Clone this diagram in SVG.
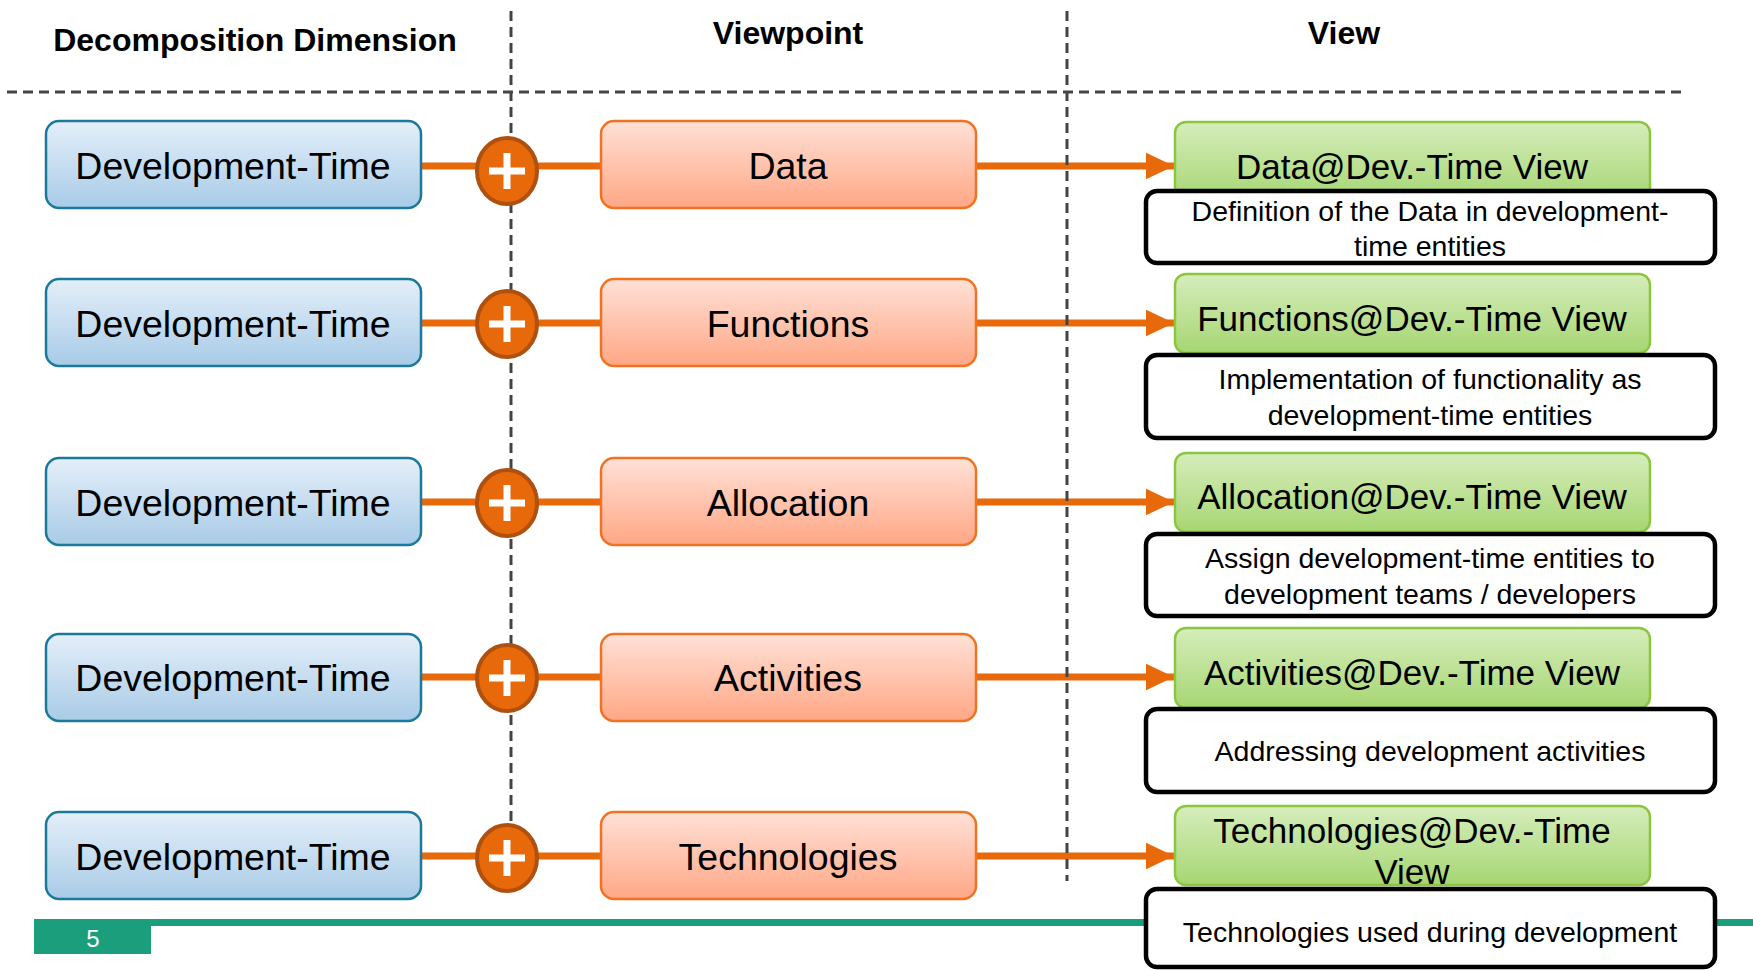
<svg xmlns="http://www.w3.org/2000/svg" width="1753" height="970" viewBox="0 0 1753 970">
<defs>
<linearGradient id="gBlue" x1="0" y1="0" x2="0" y2="1"><stop offset="0" stop-color="#E4EFF9"/><stop offset="1" stop-color="#A8CBE7"/></linearGradient>
<linearGradient id="gOrange" x1="0" y1="0" x2="0" y2="1"><stop offset="0" stop-color="#FFE1D7"/><stop offset="1" stop-color="#FFA785"/></linearGradient>
<linearGradient id="gGreen" x1="0" y1="0" x2="0" y2="1"><stop offset="0" stop-color="#D6EDBC"/><stop offset="1" stop-color="#A6D672"/></linearGradient>
<marker id="arr" markerWidth="4" markerHeight="3.8" refX="4" refY="1.9" orient="auto" markerUnits="strokeWidth"><path d="M0,0 L4,1.9 L0,3.8 Z" fill="#E8690A"/></marker>
<style>
.blue{fill:url(#gBlue);stroke:#1B7A9C;stroke-width:2.5}
.orange{fill:url(#gOrange);stroke:#F07222;stroke-width:2.5}
.green{fill:url(#gGreen);stroke:#8CC63F;stroke-width:2.5}
.desc{fill:#fff;stroke:#000;stroke-width:4.5}
.t{font-family:"Liberation Sans",Arial,sans-serif;fill:#000;text-anchor:middle}
.big{font-size:37.5px}
.gt{font-size:35px}
.dt{font-size:28.5px}
.hd{font-size:32px;font-weight:bold}
.con{stroke:#E8690A;stroke-width:7;fill:none}
.dash{stroke:#444;stroke-width:3;stroke-dasharray:10 6;fill:none}
.plus ellipse{fill:#E8690A;stroke:#B0500E;stroke-width:4}
.pl{stroke:#fff;stroke-width:7}
</style>
</defs>
<rect width="1753" height="970" fill="#fff"/>

<!-- footer -->
<g id="footer">
<rect x="34" y="919" width="1719" height="7" fill="#1A9E7B"/>
<rect x="34" y="919" width="117" height="35" fill="#1A9E7B"/>
<text x="93" y="947" class="t" style="font-size:24px;fill:#fff">5</text>
</g>

<!-- connectors -->
<g id="connectors">
<line class="con" x1="421" y1="166" x2="601" y2="166"/>
<line class="con" x1="976" y1="166" x2="1174" y2="166" marker-end="url(#arr)"/>
<line class="con" x1="421" y1="323" x2="601" y2="323"/>
<line class="con" x1="976" y1="323" x2="1174" y2="323" marker-end="url(#arr)"/>
<line class="con" x1="421" y1="502" x2="601" y2="502"/>
<line class="con" x1="976" y1="502" x2="1174" y2="502" marker-end="url(#arr)"/>
<line class="con" x1="421" y1="677" x2="601" y2="677"/>
<line class="con" x1="976" y1="677" x2="1174" y2="677" marker-end="url(#arr)"/>
<line class="con" x1="421" y1="856" x2="601" y2="856"/>
<line class="con" x1="976" y1="856" x2="1174" y2="856" marker-end="url(#arr)"/>
</g>

<!-- grid lines -->
<g id="grid">
<line class="dash" x1="7" y1="92" x2="1683" y2="92"/>
<line class="dash" x1="511" y1="11" x2="511" y2="830"/>
<line class="dash" x1="1067" y1="11" x2="1067" y2="881"/>
</g>

<!-- headers -->
<g id="headers">
<text class="t hd" x="255" y="51">Decomposition Dimension</text>
<text class="t hd" x="788" y="44">Viewpoint</text>
<text class="t hd" x="1344" y="44">View</text>
</g>

<!-- row 1 -->
<g id="dim1"><rect class="blue" x="46" y="121" width="375" height="87" rx="13"/><text class="t big" x="233" y="179">Development-Time</text></g>
<g id="plus1" class="plus"><ellipse cx="507" cy="171" rx="30" ry="33"/><line class="pl" x1="489" y1="171" x2="525" y2="171"/><line class="pl" x1="507" y1="153" x2="507" y2="189"/></g>
<g id="vp1"><rect class="orange" x="601" y="121" width="375" height="87" rx="13"/><text class="t big" x="788" y="179">Data</text></g>
<g id="view1"><rect class="green" x="1175" y="122" width="475" height="79" rx="11"/><text class="t gt" x="1412" y="179">Data@Dev.-Time View</text></g>
<g id="desc1"><rect class="desc" x="1146" y="191" width="569" height="72" rx="11"/><text class="t dt" x="1430" y="221">Definition of the Data in development-</text><text class="t dt" x="1430" y="256">time entities</text></g>

<!-- row 2 -->
<g id="dim2"><rect class="blue" x="46" y="279" width="375" height="87" rx="13"/><text class="t big" x="233" y="337">Development-Time</text></g>
<g id="plus2" class="plus"><ellipse cx="507" cy="324" rx="30" ry="33"/><line class="pl" x1="489" y1="324" x2="525" y2="324"/><line class="pl" x1="507" y1="306" x2="507" y2="342"/></g>
<g id="vp2"><rect class="orange" x="601" y="279" width="375" height="87" rx="13"/><text class="t big" x="788" y="337">Functions</text></g>
<g id="view2"><rect class="green" x="1175" y="274" width="475" height="79" rx="11"/><text class="t gt" x="1412" y="331">Functions@Dev.-Time View</text></g>
<g id="desc2"><rect class="desc" x="1146" y="355" width="569" height="83" rx="11"/><text class="t dt" x="1430" y="389">Implementation of functionality as</text><text class="t dt" x="1430" y="425">development-time entities</text></g>

<!-- row 3 -->
<g id="dim3"><rect class="blue" x="46" y="458" width="375" height="87" rx="13"/><text class="t big" x="233" y="516">Development-Time</text></g>
<g id="plus3" class="plus"><ellipse cx="507" cy="503" rx="30" ry="33"/><line class="pl" x1="489" y1="503" x2="525" y2="503"/><line class="pl" x1="507" y1="485" x2="507" y2="521"/></g>
<g id="vp3"><rect class="orange" x="601" y="458" width="375" height="87" rx="13"/><text class="t big" x="788" y="516">Allocation</text></g>
<g id="view3"><rect class="green" x="1175" y="453" width="475" height="79" rx="11"/><text class="t gt" x="1412" y="509">Allocation@Dev.-Time View</text></g>
<g id="desc3"><rect class="desc" x="1146" y="534" width="569" height="82" rx="11"/><text class="t dt" x="1430" y="568">Assign development-time entities to</text><text class="t dt" x="1430" y="604">development teams / developers</text></g>

<!-- row 4 -->
<g id="dim4"><rect class="blue" x="46" y="634" width="375" height="87" rx="13"/><text class="t big" x="233" y="691">Development-Time</text></g>
<g id="plus4" class="plus"><ellipse cx="507" cy="678" rx="30" ry="33"/><line class="pl" x1="489" y1="678" x2="525" y2="678"/><line class="pl" x1="507" y1="660" x2="507" y2="696"/></g>
<g id="vp4"><rect class="orange" x="601" y="634" width="375" height="87" rx="13"/><text class="t big" x="788" y="691">Activities</text></g>
<g id="view4"><rect class="green" x="1175" y="628" width="475" height="80" rx="11"/><text class="t gt" x="1412" y="685">Activities@Dev.-Time View</text></g>
<g id="desc4"><rect class="desc" x="1146" y="709" width="569" height="83" rx="11"/><text class="t dt" x="1430" y="761">Addressing development activities</text></g>

<!-- row 5 -->
<g id="dim5"><rect class="blue" x="46" y="812" width="375" height="87" rx="13"/><text class="t big" x="233" y="870">Development-Time</text></g>
<g id="plus5" class="plus"><ellipse cx="507" cy="858" rx="30" ry="33"/><line class="pl" x1="489" y1="858" x2="525" y2="858"/><line class="pl" x1="507" y1="840" x2="507" y2="876"/></g>
<g id="vp5"><rect class="orange" x="601" y="812" width="375" height="87" rx="13"/><text class="t big" x="788" y="870">Technologies</text></g>
<g id="view5"><rect class="green" x="1175" y="806" width="475" height="79" rx="11"/><text class="t gt" x="1412" y="843">Technologies@Dev.-Time</text><text class="t gt" x="1412" y="884">View</text></g>
<g id="desc5"><rect class="desc" x="1146" y="889" width="569" height="78" rx="11"/><text class="t dt" x="1430" y="942">Technologies used during development</text></g>
</svg>
